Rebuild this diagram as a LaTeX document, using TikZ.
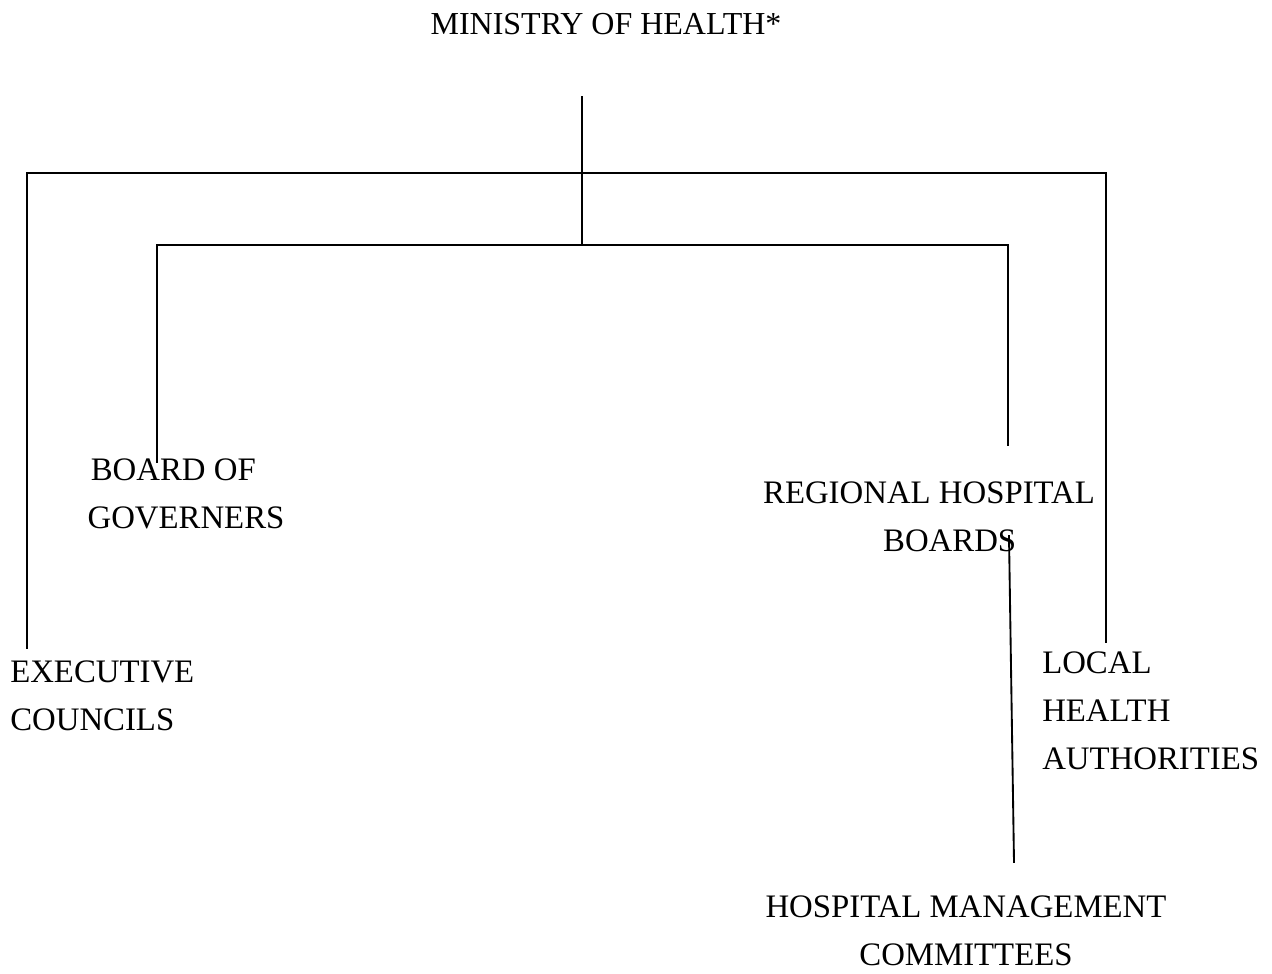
\documentclass[tikz,border=0pt]{standalone}
\usepackage{fontspec}
\setmainfont{Liberation Serif}
\newcommand{\lblc}[1]{\begin{tabular}[t]{@{}c@{}}#1\end{tabular}}
\newcommand{\lbll}[1]{\begin{tabular}[t]{@{}l@{}}#1\end{tabular}}
\begin{document}
\begin{tikzpicture}[x=0.75pt,y=-0.75pt,
  lbl/.style={inner sep=0pt, anchor=base, font=\fontsize{24.6}{36}\selectfont},
  lblw/.style={inner sep=0pt, anchor=base west, font=\fontsize{24.6}{36}\selectfont},
  conn/.style={line width=1.4pt, line cap=rect}]
\useasboundingbox[fill=white] (0,0) rectangle (1272,974);
\node[lbl, font=\fontsize{24}{36}\selectfont] (moh) at (606,35) {MINISTRY OF HEALTH*};
\node[lbl] (bog) at (186,480) {\lblc{BOARD OF\hspace*{19pt}\\GOVERNERS}};
\node[lbl] (rhb) at (929,503) {\lblc{REGIONAL HOSPITAL\\\hspace*{31pt}BOARDS}};
\node[lblw] (ec) at (10,682) {\lbll{EXECUTIVE\\COUNCILS}};
\node[lblw] (lha) at (1042,673) {\lbll{LOCAL\\HEALTH\\AUTHORITIES}};
\node[lbl] (hmc) at (966,917) {\lblc{HOSPITAL MANAGEMENT\\COMMITTEES}};
\coordinate (top) at (582,97);
\coordinate (outer) at (582,173);
\coordinate (hub) at (582,245);
\coordinate (ecend) at (27,648);
\coordinate (lhaend) at (1106,642);
\coordinate (bogend) at (157,462);
\coordinate (rhbend) at (1008,445);
\coordinate (rhbout) at (1009,536);
\coordinate (hmcin) at (1014,862);
\draw[conn] (top) -- (hub);
\draw[conn] (ecend) |- (outer) -| (lhaend);
\draw[conn] (bogend) |- (hub) -| (rhbend);
\draw[conn] (rhbout) -- (hmcin);
\end{tikzpicture}
\end{document}
